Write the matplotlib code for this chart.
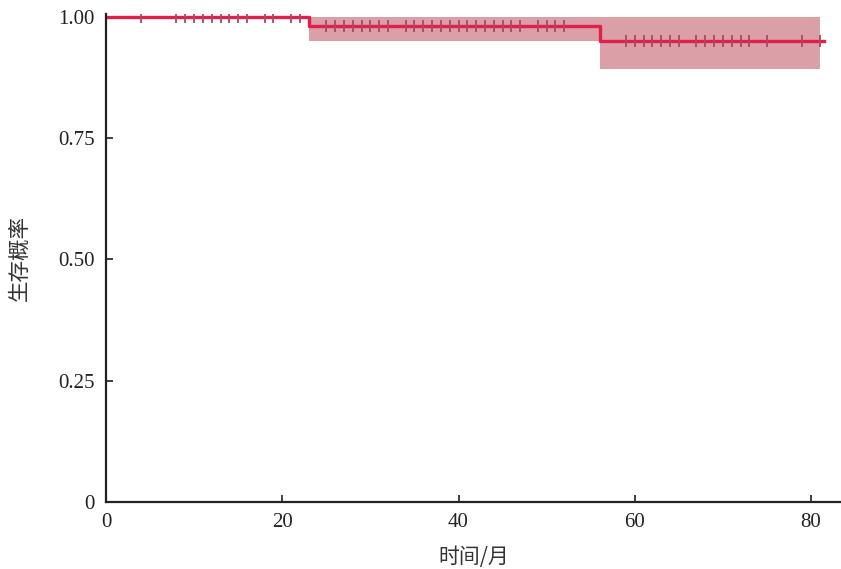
import matplotlib
matplotlib.use("Agg")
import matplotlib.pyplot as plt

# Kaplan-Meier curve
step_t = [0, 23, 56, 81.5]
step_s = [1.0, 0.981, 0.951, 0.951]
ci_t = [23, 56, 81]
ci_low = [0.951, 0.892, 0.892]
ci_high = [1.0, 1.0, 1.0]

cens_t = [4, 8, 9, 10, 11, 12, 13, 14, 15, 16, 18, 19, 21, 22,
          25, 26, 27, 28, 29, 30, 31, 32, 34, 35, 36, 37, 38, 39, 40, 41, 42, 43, 44, 45, 46, 47,
          49, 50, 51, 52,
          59, 60, 61, 62, 63, 64, 65, 67, 68, 69, 70, 71, 72, 73, 75, 79, 81]

xticks = [0, 20, 40, 60, 80]
yticks = [0, 0.25, 0.5, 0.75, 1.0]
ytick_labels = ["0", "0.25", "0.50", "0.75", "1.00"]


def surv_at(t):
    s = step_s[0]
    for tt, ss in zip(step_t, step_s):
        if t >= tt:
            s = ss
    return s


fig = plt.figure(figsize=(8.41, 5.69), dpi=100)
ax = fig.add_axes([0.126, 0.1178, 0.874, 0.857])

ax.fill_between(ci_t, ci_low, ci_high, step="post", color="#c4606e", alpha=0.6, lw=0)
ax.step(step_t, step_s, where="post", color="#e0204a", lw=2.4)
ax.plot(cens_t, [surv_at(t) for t in cens_t], ls="none", marker="|",
        ms=8, mew=1.3, color="#a84866")

ax.set_xlim(0, 83.4)
ax.set_ylim(0, 1.005)
ax.set_xticks(xticks)
ax.set_yticks(yticks)
ax.set_yticklabels(ytick_labels)
for lab in ax.get_xticklabels() + ax.get_yticklabels():
    lab.set_fontfamily("Liberation Serif")
    lab.set_fontsize(15)
ax.tick_params(direction="in", length=5, width=1.2, colors="#222222", pad=8)
ax.spines["top"].set_visible(False)
ax.spines["right"].set_visible(False)
for sp in ["left", "bottom"]:
    ax.spines[sp].set_linewidth(1.6)
    ax.spines[sp].set_color("#222222")

ax.set_xlabel("时间/月", fontfamily="Noto Sans CJK SC", fontsize=15, color="#333333", labelpad=10)
ax.set_ylabel("生存概率", fontfamily="Noto Sans CJK SC", fontsize=15.5, color="#333333", labelpad=20)

fig.savefig("out.png", dpi=100)
